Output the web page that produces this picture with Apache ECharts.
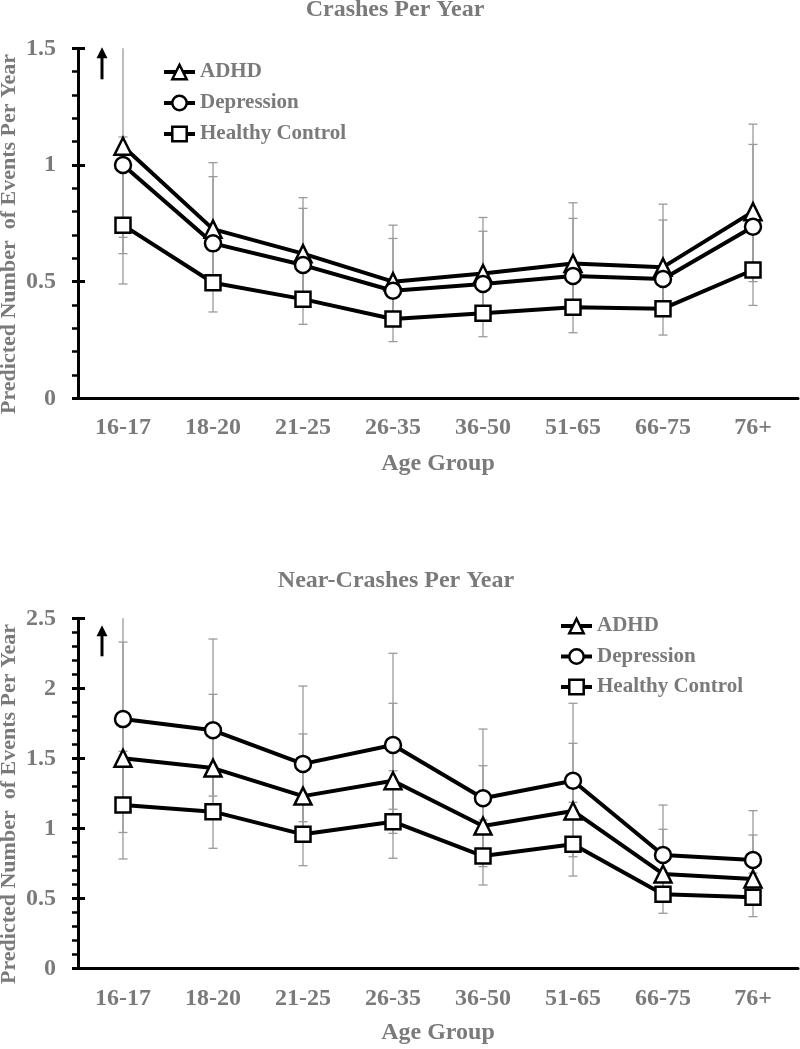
<!DOCTYPE html>
<html><head><meta charset="utf-8">
<script src="https://cdn.jsdelivr.net/npm/echarts@6/dist/echarts.min.js"></script>
<style>html,body{margin:0;padding:0;background:#fff}#c{width:800px;height:1049px}</style>
</head><body><div id="c"></div>
<script>
// ---------- data ----------
const categories = ['16-17','18-20','21-25','26-35','36-50','51-65','66-75','76+'];
const seriesNames = ['ADHD','Depression','Healthy Control'];

// Crashes per year
const crashADHD   = [1.08, 0.725, 0.62, 0.50, 0.535, 0.578, 0.562, 0.80];
const crashDep    = [1.00, 0.664, 0.571, 0.461, 0.49, 0.524, 0.511, 0.735];
const crashHC     = [0.742, 0.495, 0.425, 0.34, 0.364, 0.39, 0.384, 0.55];
const crashADHDLo = [0.69, 0.52, 0.44, 0.36, 0.38, 0.40, 0.40, 0.55];
const crashADHDHi = [1.60, 1.01, 0.86, 0.742, 0.775, 0.838, 0.832, 1.175];
const crashDepLo  = [0.62, 0.48, 0.41, 0.33, 0.35, 0.38, 0.37, 0.50];
const crashDepHi  = [1.12, 0.95, 0.814, 0.685, 0.716, 0.771, 0.764, 1.088];
const crashHCLo   = [0.49, 0.37, 0.317, 0.243, 0.264, 0.281, 0.271, 0.398];
const crashHCHi   = [1.00, 0.66, 0.57, 0.46, 0.49, 0.524, 0.51, 0.735];

// Near-crashes per year
const nearADHD   = [1.50, 1.43, 1.23, 1.34, 1.016, 1.124, 0.674, 0.638];
const nearDep    = [1.78, 1.70, 1.46, 1.595, 1.215, 1.34, 0.809, 0.774];
const nearHC     = [1.166, 1.119, 0.957, 1.047, 0.802, 0.886, 0.529, 0.507];
const nearADHDLo = [0.97, 1.08, 0.95, 0.964, 0.726, 0.797, 0.50, 0.47];
const nearADHDHi = [2.33, 1.957, 1.674, 1.893, 1.447, 1.607, 0.993, 0.952];
const nearDepLo  = [1.20, 1.23, 1.047, 1.136, 0.84, 0.92, 0.56, 0.54];
const nearDepHi  = [2.60, 2.352, 2.016, 2.25, 1.709, 1.893, 1.166, 1.126];
const nearHCLo   = [0.781, 0.857, 0.733, 0.786, 0.595, 0.659, 0.393, 0.369];
const nearHCHi   = [1.55, 1.45, 1.25, 1.411, 1.06, 1.186, 0.70, 0.68];

const crashTicks = {min: 0, max: 1.5, interval: 0.5};
const nearTicks  = {min: 0, max: 2.5, interval: 0.5};

// ---------- style ----------
const GREY = '#7a7a7a';
const FONT = '"Liberation Serif", "Times New Roman", serif';
const txt = (size) => ({color: GREY, fontFamily: FONT, fontWeight: 'bold', fontSize: size});

const chart = echarts.init(document.getElementById('c'), null, {renderer: 'canvas'});

function errRender(params, api) {
  const x = api.value(0), lo = api.value(1), hi = api.value(2);
  const pLo = api.coord([x, lo]);
  const pHi = api.coord([x, hi]);
  const top = params.coordSys.y;
  const clipped = pHi[1] < top;
  const yH = clipped ? top : pHi[1];
  const w = 4.5;
  const st = {stroke: '#9a9a9a', lineWidth: 1.3};
  const ch = [
    {type: 'line', shape: {x1: pLo[0], y1: pLo[1], x2: pLo[0], y2: yH}, style: st},
    {type: 'line', shape: {x1: pLo[0] - w, y1: pLo[1], x2: pLo[0] + w, y2: pLo[1]}, style: st}
  ];
  if (!clipped) ch.push({type: 'line', shape: {x1: pHi[0] - w, y1: yH, x2: pHi[0] + w, y2: yH}, style: st});
  return {type: 'group', children: ch};
}
function errSeries(id, lo, hi, gi) {
  return {type: 'custom', name: id, xAxisIndex: gi, yAxisIndex: gi * 2, z: 1, silent: true,
    renderItem: errRender, encode: {x: 0, y: [1, 2]}, clip: false,
    data: lo.map((l, i) => [i, l, hi[i]])};
}
const SYM = {'ADHD': ['triangle', 17], 'Depression': ['circle', 16], 'Healthy Control': ['rect', 15]};
function lineSeries(name, data, gi) {
  return {type: 'line', name, data, xAxisIndex: gi, yAxisIndex: gi * 2,
    symbol: SYM[name][0], symbolSize: SYM[name][1], z: 3, silent: true,
    lineStyle: {color: '#000', width: 4},
    itemStyle: {color: '#fff', borderColor: '#000', borderWidth: 2.5},
    emphasis: {disabled: true}};
}
function xAxis(gi, margin) {
  return {gridIndex: gi, type: 'category', data: categories, boundaryGap: true,
    axisLine: {lineStyle: {color: '#000', width: 3}}, axisTick: {show: false},
    axisLabel: Object.assign(txt(24), {margin: margin, interval: 0}), splitLine: {show: false}};
}
function yAxes(gi, t) {
  return [
    {gridIndex: gi, type: 'value', position: 'left', min: t.min, max: t.max, interval: t.interval,
      axisLine: {show: true, lineStyle: {color: '#000', width: 3}},
      axisTick: {show: true, length: 6, lineStyle: {color: '#000', width: 3}},
      minorTick: {show: true, splitNumber: 5, length: 6, lineStyle: {color: '#000', width: 2.5}},
      axisLabel: Object.assign(txt(24), {margin: 22}), splitLine: {show: false}},
    {gridIndex: gi, type: 'value', position: 'left', min: t.min, max: t.max, interval: t.interval,
      axisLine: {show: false},
      axisTick: {show: true, inside: true, length: 7, lineStyle: {color: '#000', width: 3}},
      axisLabel: {show: false}, splitLine: {show: false}}
  ];
}
function legend(left, top, gap) {
  return {orient: 'vertical', left, top, padding: 0, itemGap: gap, itemWidth: 31, itemHeight: 18,
    data: seriesNames, selectedMode: false,
    lineStyle: {color: '#000', width: 4},
    itemStyle: {color: '#fff', borderColor: '#000', borderWidth: 2.5},
    textStyle: Object.assign(txt(21), {lineHeight: 21})};
}

chart.setOption({
  animation: false,
  backgroundColor: '#fff',
  grid: [
    {left: 78, right: 2, top: 48.3, bottom: 650.7},
    {left: 78, right: 2, top: 618.3, bottom: 80.7}
  ],
  xAxis: [xAxis(0, 17), xAxis(1, 18)],
  yAxis: yAxes(0, crashTicks).concat(yAxes(1, nearTicks)),
  legend: [legend(162, 61.5, 10), legend(559, 615.5, 9.5)],
  series: [
    errSeries('e1', crashADHDLo, crashADHDHi, 0),
    errSeries('e2', crashDepLo, crashDepHi, 0),
    errSeries('e3', crashHCLo, crashHCHi, 0),
    lineSeries('ADHD', crashADHD, 0),
    lineSeries('Depression', crashDep, 0),
    lineSeries('Healthy Control', crashHC, 0),
    errSeries('e4', nearADHDLo, nearADHDHi, 1),
    errSeries('e5', nearDepLo, nearDepHi, 1),
    errSeries('e6', nearHCLo, nearHCHi, 1),
    lineSeries('ADHD', nearADHD, 1),
    lineSeries('Depression', nearDep, 1),
    lineSeries('Healthy Control', nearHC, 1)
  ]
});

// ---------- annotations (titles, axis names, arrows) ----------
function gText(text, x, y, size, rot) {
  return {type: 'text', x, y, rotation: rot || 0, silent: true,
    style: {text, fill: GREY, font: 'bold ' + size + 'px ' + FONT, textAlign: 'center', textVerticalAlign: 'middle'}};
}
function arrow(gi, tipOff, tailOff) {
  const p = chart.convertToPixel({xAxisIndex: gi, yAxisIndex: gi * 2}, [0, gi === 0 ? crashTicks.max : nearTicks.max]);
  const x = p[0] - 21, tip = p[1] + tipOff, tail = p[1] + tailOff;
  return [
    {type: 'line', silent: true, shape: {x1: x, y1: tail, x2: x, y2: tip + 9}, style: {stroke: '#000', lineWidth: 3}},
    {type: 'polygon', silent: true, shape: {points: [[x - 5.5, tip + 11], [x + 5.5, tip + 11], [x, tip]]}, style: {fill: '#000'}}
  ];
}
const gridMid = (chart.getWidth() - 2 + 78) / 2;
chart.setOption({
  graphic: [
    gText('Crashes Per Year', 395, 10, 24),
    gText('Near-Crashes Per Year', 396, 580.5, 24),
    gText('Age Group', gridMid, 464, 24),
    gText('Age Group', gridMid, 1033, 24),
    gText('Predicted Number  of Events Per Year', 9.5, 234, 22, Math.PI / 2),
    gText('Predicted Number  of Events Per Year', 9.5, 804, 22, Math.PI / 2)
  ].concat(arrow(0, -1, 31), arrow(1, 7, 38))
});
</script>
</body></html>
